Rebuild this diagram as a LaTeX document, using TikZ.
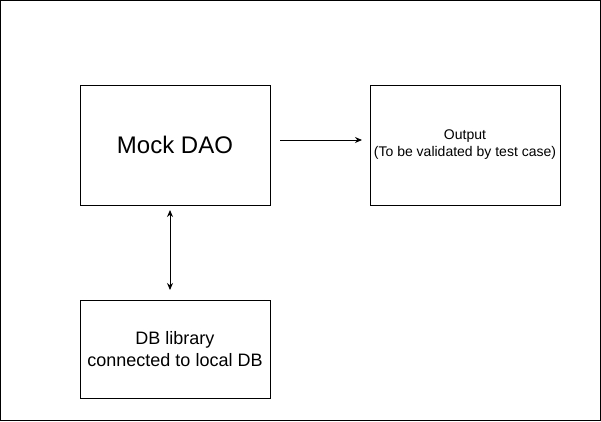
\documentclass[tikz,border=0pt]{standalone}
\usepackage{fontspec}
\setmainfont{Liberation Sans}
\usetikzlibrary{arrows.meta}
\begin{document}
\begin{tikzpicture}[x=1pt,y=-1pt,
  box/.style={draw,line width=1pt,minimum width=190pt,minimum height=120pt,inner sep=0pt,align=center},
  conn/.style={line width=1pt,-{Stealth[length=7pt,width=6pt]}}]
\useasboundingbox (0,0) rectangle (601,421);
\draw[line width=1pt] (0.5,0.5) rectangle (600.5,420.5);
\node[box,font=\fontsize{24}{28}\selectfont] (dao) at (175,145) {Mock DAO};
\node[box,font=\fontsize{14}{17}\selectfont] (out) at (465,145) {Output\\(To be validated by test case)};
\node[box,minimum height=98pt,font=\fontsize{18}{22}\selectfont] (db) at (175,349) {DB library\\connected to local DB};
\coordinate (a1) at (280,140);
\coordinate (a2) at (362,140);
\draw[conn] (a1) -- (a2);
\coordinate (b1) at (170,210);
\coordinate (b2) at (170,290);
\draw[conn,{Stealth[length=7pt,width=6pt]}-{Stealth[length=7pt,width=6pt]}] (b1) -- (b2);
\end{tikzpicture}
\end{document}
